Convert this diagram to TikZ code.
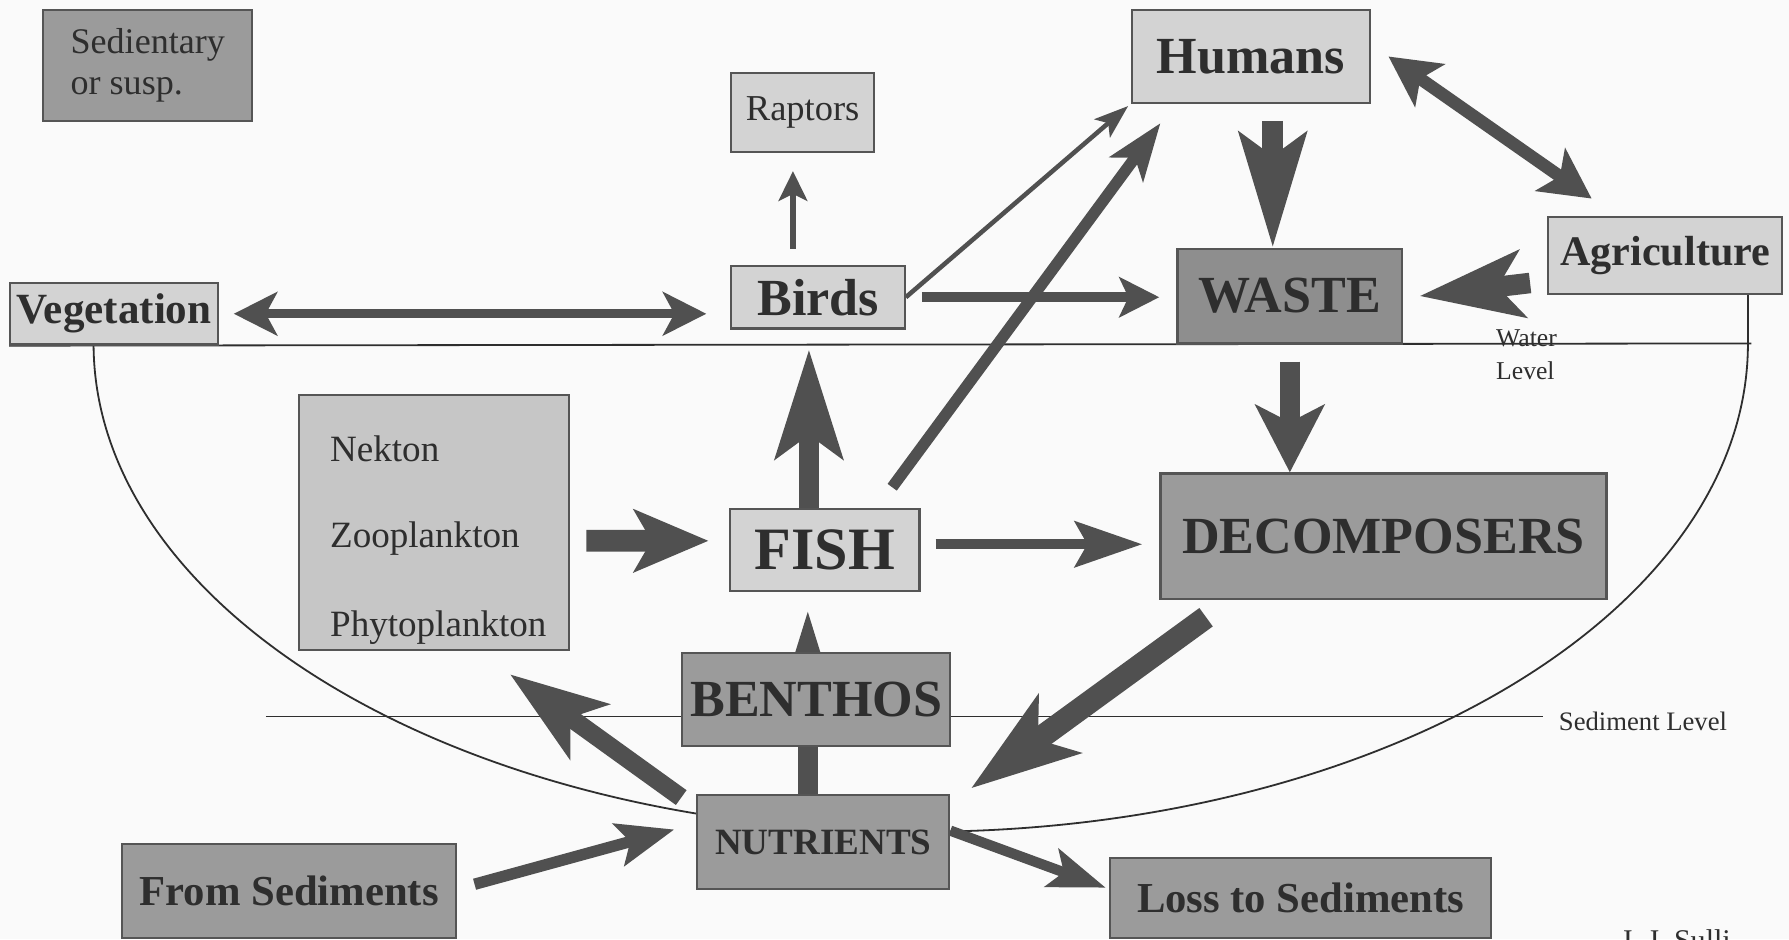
\documentclass[tikz,border=0pt]{standalone}
\usepackage{fontspec}
\setmainfont{Liberation Serif}
\usetikzlibrary{arrows.meta,backgrounds}

\definecolor{paper}{HTML}{FAFAFA}
\definecolor{lightfill}{HTML}{D3D3D3}
\definecolor{planktonfill}{HTML}{C6C6C6}
\definecolor{darkfill}{HTML}{9B9B9B}
\definecolor{wastefill}{HTML}{8E8E8E}
\definecolor{boxline}{HTML}{555555}
\definecolor{arrowgray}{HTML}{505050}
\definecolor{inkgray}{HTML}{2E2E2E}

\tikzset{
  lightbox/.style={draw=boxline, line width=1.1pt, fill=lightfill, text=inkgray, inner sep=0pt},
  darkbox/.style={draw=boxline, line width=1.1pt, fill=darkfill, text=inkgray, inner sep=0pt},
  flow/.style n args={4}{draw=arrowgray, line width=#1, -{Stealth[length=#2, width=#3, inset=#4]}},
  flows/.style n args={4}{draw=arrowgray, line width=#1,
    {Stealth[length=#2, width=#3, inset=#4]}-{Stealth[length=#2, width=#3, inset=#4]}},
  level/.style={draw=inkgray, line width=0.9pt}
}

\begin{document}
\begin{tikzpicture}[x=0.02cm, y=-0.02cm]
  \useasboundingbox (0,0) rectangle (1568,823);

  % boxes
  \node[darkbox, minimum width=3.66cm, minimum height=1.94cm, align=left,
        font=\fontsize{18}{20.5}\selectfont] (sedi) at (129.5,57.5) {Sedientary\\or susp.};
  \node[lightbox, minimum width=2.5cm, minimum height=1.38cm,
        font=\fontsize{18.2}{20}\selectfont] (raptors) at (703.5,98.5) {Raptors};
  \node[lightbox, minimum width=4.18cm, minimum height=1.62cm,
        font=\fontsize{26}{28}\selectfont\bfseries] (humans) at (1096.5,49.5) {Humans};
  \node[lightbox, minimum width=4.1cm, minimum height=1.36cm,
        font=\fontsize{21}{24}\selectfont\bfseries] (agri) at (1459.5,224) {Agriculture};
  \node[lightbox, minimum width=3.64cm, minimum height=1.08cm,
        font=\fontsize{21.5}{24}\selectfont\bfseries] (veg) at (100,275) {Vegetation};
  \node[lightbox, minimum width=3.04cm, minimum height=1.1cm,
        font=\fontsize{26}{28}\selectfont\bfseries] (birds) at (717,260.5) {Birds};
  \node[darkbox, fill=wastefill, minimum width=3.94cm, minimum height=1.66cm,
        font=\fontsize{26}{28}\selectfont\bfseries] (waste) at (1130.5,259.5) {WASTE};
  \node[lightbox, fill=planktonfill, minimum width=4.74cm, minimum height=4.48cm] (plankton) at (380.5,458) {};
  \node[anchor=west, inner sep=0pt, text=inkgray, font=\fontsize{18.5}{20}\selectfont] (nekton) at (289,393) {Nekton};
  \node[anchor=west, inner sep=0pt, text=inkgray, font=\fontsize{18.5}{20}\selectfont] (zoo) at (289,472) {Zooplankton};
  \node[anchor=west, inner sep=0pt, text=inkgray, font=\fontsize{18.5}{20}\selectfont] (phyto) at (289,550) {Phytoplankton};
  \node[lightbox, minimum width=3.32cm, minimum height=1.44cm,
        font=\fontsize{30}{32}\selectfont\bfseries] (fish) at (723,482) {FISH};
  \node[darkbox, minimum width=7.82cm, minimum height=2.2cm,
        font=\fontsize{26}{28}\selectfont\bfseries] (decomp) at (1212.5,470) {DECOMPOSERS};
  \node[darkbox, minimum width=4.7cm, minimum height=1.64cm,
        font=\fontsize{26}{28}\selectfont\bfseries] (benthos) at (715.5,613) {BENTHOS};
  \node[darkbox, minimum width=4.42cm, minimum height=1.64cm,
        font=\fontsize{18.5}{20}\selectfont\bfseries] (nutri) at (721.5,738) {NUTRIENTS};
  \node[darkbox, minimum width=5.86cm, minimum height=1.64cm,
        font=\fontsize{21.3}{24}\selectfont\bfseries] (fromsed) at (253.5,781) {From Sediments};
  \node[darkbox, minimum width=6.68cm, minimum height=1.4cm,
        font=\fontsize{21.3}{24}\selectfont\bfseries] (loss) at (1140,787) {Loss to Sediments};

  % labels
  \node[anchor=north west, inner sep=0pt, align=left, text=inkgray,
        font=\fontsize{12.8}{16}\selectfont] (water) at (1311,289) {Water\\Level};
  \node[anchor=west, inner sep=0pt, text=inkgray,
        font=\fontsize{13.3}{15}\selectfont] (sedlevel) at (1366,632) {Sediment Level};
  \node[anchor=north west, inner sep=0pt, text=inkgray,
        font=\fontsize{15}{17}\selectfont] (author) at (1420,814) {J. J. Sulli};

  \begin{scope}[on background layer]
    \fill[paper] (0,0) rectangle (1568,823);
    % water, sediment and basin
    \draw[level] (veg.south west) -- (1535,301);
    \draw[level] (233,628) -- (1352,628);
    \draw[level] (82,301) arc[start angle=180, end angle=0, x radius=725, y radius=428];
    \draw[level] (agri.south -| 1532,0) -- (1532,301);

    % flows
    \draw[flows={0.16cm}{0.76cm}{0.76cm}{0.2cm}, shorten <=0.26cm, shorten >=0.42cm]
      (veg.east) -- (veg.east -| birds.west);
    \draw[flow={0.1cm}{0.52cm}{0.5cm}{0.12cm}, shorten <=0.28cm, shorten >=0.32cm]
      ([xshift=-0.17cm]raptors.south |- birds.north) -- ([xshift=-0.17cm]raptors.south);
    \draw[flow={0.08cm}{0.6cm}{0.42cm}{0.14cm}, shorten >=0.06cm]
      (birds.east) -- (humans.south west);
    \draw[flow={0.2cm}{1.0cm}{0.72cm}{0.25cm}]
      ([shift={(-25,-18)}]fish.north east) -- ([shift={(26,17)}]humans.south west);
    \draw[flow={0.18cm}{0.7cm}{0.7cm}{0.16cm}, shorten <=0.28cm, shorten >=0.3cm]
      (birds.east) -- (birds.east -| waste.west);
    \draw[flow={0.36cm}{2.0cm}{1.16cm}{0.4cm}, shorten <=0.3cm]
      ([xshift=-0.3cm]waste.north |- humans.south) -- ([xshift=-0.3cm]waste.north);
    \draw[flows={0.22cm}{0.88cm}{0.9cm}{0.2cm}]
      ([shift={(15,0)}]humans.east) -- ([shift={(39,-15)}]agri.north west);
    \draw[flow={0.36cm}{1.8cm}{1.16cm}{0.42cm}]
      ([shift={(-15,24)}]agri.west) -- ([xshift=0.28cm]waste.east);
    \draw[flow={0.36cm}{1.18cm}{1.2cm}{0.3cm}, shorten <=0.3cm]
      (waste.south) -- (waste.south |- decomp.north);
    \draw[flow={0.38cm}{1.3cm}{1.08cm}{0.3cm}, shorten <=0.28cm, shorten >=0.36cm]
      (plankton.east |- fish.west) ++(0,-8) -- ([yshift=0.16cm]fish.west);
    \draw[flow={0.36cm}{1.9cm}{1.16cm}{0.4cm}, shorten >=0.34cm]
      ([xshift=-0.28cm]fish.north) -- ([xshift=-0.28cm]fish.north |- birds.south);
    \draw[flow={0.17cm}{1.18cm}{0.8cm}{0.22cm}, shorten <=0.26cm, shorten >=0.3cm]
      ([yshift=0.1cm]fish.east) -- ([yshift=0.1cm]fish.east -| decomp.west);
    \draw[flow={0.36cm}{1.2cm}{0.7cm}{0.2cm}, shorten >=0.32cm]
      ([xshift=-0.27cm]nutri.north) -- ([xshift=-0.27cm]nutri.north |- fish.south);
    \draw[flow={0.32cm}{1.7cm}{1.16cm}{0.4cm}]
      ([shift={(-13,3)}]nutri.north west) -- ([shift={(-53,20)}]plankton.south east);
    \draw[flow={0.4cm}{1.9cm}{1.24cm}{0.45cm}]
      ([shift={(41,15)}]decomp.south west) -- ([shift={(18,-5)}]nutri.north east);
    \draw[flow={0.2cm}{1.0cm}{0.75cm}{0.2cm}]
      ([shift={(15,-6)}]fromsed.east) -- ([shift={(-19,-11)}]nutri.west);
    \draw[flow={0.18cm}{1.0cm}{0.7cm}{0.22cm}]
      ([yshift=0.2cm]nutri.east) -- ([shift={(-3,-9)}]loss.west);
  \end{scope}
\end{tikzpicture}
\end{document}
